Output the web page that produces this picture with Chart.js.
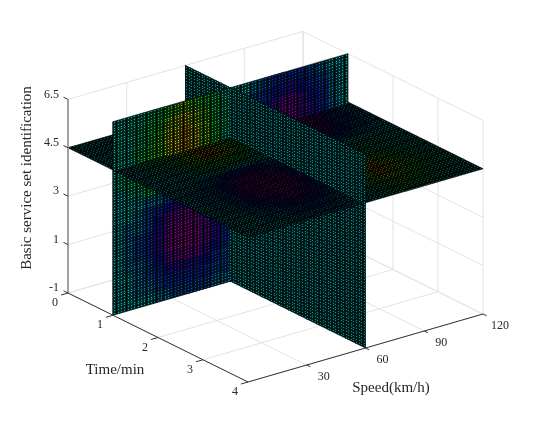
<!DOCTYPE html>
<html>
<head>
<meta charset="utf-8">
<title>Slice plot</title>
<style>
  html, body { margin: 0; padding: 0; background: #fff; }
  canvas { display: block; }
</style>
<script src="https://cdn.jsdelivr.net/npm/chart.js@4/dist/chart.umd.js"></script>
</head>
<body>
<canvas id="chart" width="533" height="429"></canvas>
<script>
const timeTicks = [0, 1, 2, 3, 4];
const speedTicks = [30, 60, 90, 120];
const heightLabels = ["-1", "1", "3", "4.5", "6.5"];
const timeSlice = 1;
const speedSlice = 60;
const heightSlice = 3; // position of the 4.5 label

// levels, -10 magenta ... 0 teal ... 10 red
// rows go bottom to top, columns speed 0 to 120
const timeSliceValues = [
  [0,0,0,0,-1,-1,-2,-2,-2,-2,-1,-1, 0,0,0,0,0,0,0,0,0,0,0,0],
  [0,0,-1,-1,-2,-3,-3,-3,-3,-3,-2,-2, 0,0,0,0,0,0,0,0,0,0,0,0],
  [0,0,-1,-2,-3,-4,-5,-5,-5,-4,-3,-2, 0,0,0,0,0,0,0,0,0,0,0,0],
  [0,-1,-1,-2,-4,-6,-7,-8,-8,-6,-4,-3, 0,0,0,0,0,0,0,0,0,0,0,0],
  [0,-1,-2,-3,-5,-7,-9,-10,-9,-7,-5,-3, 0,0,0,0,0,0,0,0,0,0,0,0],
  [0,-1,-2,-3,-5,-7,-9,-10,-9,-7,-5,-3, 0,0,0,0,0,0,0,0,0,0,0,0],
  [0,-1,-1,-2,-4,-6,-8,-8,-8,-6,-4,-3, 0,0,0,0,0,0,0,0,0,0,0,0],
  [0,0,-1,-2,-3,-4,-5,-6,-5,-4,-3,-2, 0,0,0,0,0,0,0,0,0,0,0,0],
  [0,0,0,-1,-1,-2,-3,-3,-3,-2,-2,-1, 0,0,0,0,0,0,0,0,0,0,0,0],
  [0,1,2,3,3,2,1,0,0,0,0,0, 0,0,-1,-2,-3,-3,-3,-3,-2,-1,-1,0],
  [1,2,3,4,4,3,3,2,2,2,1,0, 0,-1,-2,-3,-4,-5,-5,-4,-3,-2,-1,0],
  [1,2,3,4,5,5,5,5,4,3,2,1, 0,-1,-2,-4,-6,-7,-7,-6,-4,-3,-1,0],
  [1,1,3,4,5,7,8,9,8,6,4,2, 0,-1,-3,-4,-6,-8,-8,-6,-5,-3,-1,0],
  [1,1,2,3,5,7,8,9,8,6,4,2, 0,-1,-2,-4,-6,-7,-7,-6,-4,-3,-1,0],
  [1,1,2,3,4,6,7,8,7,5,3,2, 0,0,-2,-3,-4,-5,-5,-4,-3,-2,-1,0],
  [0,1,1,2,3,4,5,6,5,4,3,1, 0,0,-1,-2,-3,-3,-3,-3,-2,-1,0,0]
];

// rows go bottom to top, columns time 0 to 4
const speedSliceValues = [
  [0,0,0,0,0,0,0,0],
  [0,0,0,0,0,0,0,0],
  [0,0,0,0,0,0,0,0],
  [0,0,0,0,0,0,0,0],
  [0,0,0,0,0,0,0,0],
  [0,0,0,0,0,0,0,0],
  [0,0,0,0,0,0,0,0],
  [0,0,0,0,0,0,0,0]
];

// rows go time 0 to 4, columns speed 0 to 120
const heightSliceValues = [
  [0,0,0,1,1,2,1,1,0,0,-1,-1,-2,-1,-1,0],
  [0,0,1,1,2,3,2,1,0,-1,-2,-2,-3,-2,-1,0],
  [0,0,1,2,4,5,4,2,0,-1,-3,-5,-5,-4,-2,-1],
  [0,1,1,3,6,7,6,3,1,-1,-3,-6,-7,-5,-3,-1],
  [0,1,2,4,7,9,7,4,1,-2,-4,-7,-8,-6,-3,-1],
  [0,1,2,4,7,9,7,4,1,-2,-4,-7,-8,-6,-3,-1],
  [0,0,1,2,4,5,4,2,0,-1,-3,-6,-6,-4,-2,-1],
  [0,0,0,0,1,0,0,0,0,0,-1,-3,-3,-2,-1,0],
  [0,0,-1,-2,-4,-5,-4,-2,0,1,1,0,0,0,0,0],
  [0,-1,-2,-4,-7,-8,-7,-4,-1,1,3,3,2,1,1,0],
  [0,-1,-2,-5,-8,-10,-8,-5,-1,2,4,5,4,3,1,1],
  [0,-1,-2,-5,-8,-10,-8,-4,-1,3,6,8,6,4,2,1],
  [0,-1,-2,-4,-6,-8,-6,-3,0,3,7,9,7,5,2,1],
  [0,0,-1,-2,-4,-5,-4,-2,0,3,6,8,6,4,2,1],
  [0,0,-1,-1,-2,-3,-2,-1,0,2,4,5,4,2,1,0],
  [0,0,0,-1,-1,-1,-1,0,0,1,2,2,2,1,1,0]
];

const colorStops = [
  [-10, 215, 0, 185], [-7, 150, 0, 215], [-4, 20, 20, 245], [-2, 0, 100, 230],
  [0, 0, 220, 220], [2, 0, 220, 130], [4, 20, 230, 40], [6, 120, 235, 0],
  [8, 235, 225, 0], [10, 245, 90, 0]
];

const meshCount = 70;
const maxTime = 4, maxSpeed = 120, maxHeight = 4;

// fixed view of the 3D box
function project(time, speed, height) {
  return {
    x: 68 + 45 * time + 58.75 * (speed / 30),
    y: 293 + 22.25 * time - 17 * (speed / 30) - 48.4 * height
  };
}

function levelColor(level, scale) {
  let c = colorStops[0];
  for (const stop of colorStops) if (stop[0] <= level) c = stop;
  const next = colorStops[colorStops.indexOf(c) + 1] || c;
  const f = next === c ? 0 : (level - c[0]) / (next[0] - c[0]);
  const ch = (i) => Math.min(255, Math.round((c[i] + (next[i] - c[i]) * f) * scale));
  return `rgb(${ch(1)},${ch(2)},${ch(3)})`;
}

const planes = {
  time: {
    values: timeSliceValues, aMax: maxSpeed, bMax: maxHeight,
    at: (a, b) => project(timeSlice, a, b),
    cell: (a, b, v) => v[Math.floor(b / maxHeight * v.length)][Math.floor(a / maxSpeed * v[0].length)],
    dot: 0.82, dim: 0.27, under: 1.7, base: "#010808"
  },
  speed: {
    values: speedSliceValues, aMax: maxTime, bMax: maxHeight,
    at: (a, b) => project(a, speedSlice, b),
    cell: (a, b, v) => v[Math.floor(b / maxHeight * v.length)][Math.floor(a / maxTime * v[0].length)],
    dot: 0.66, dim: 0.17, under: 1.6, base: "#010606"
  },
  height: {
    values: heightSliceValues, aMax: maxTime, bMax: maxSpeed,
    at: (a, b) => project(a, b, heightSlice),
    cell: (a, b, v) => v[Math.floor(a / maxTime * v.length)][Math.floor(b / maxSpeed * v[0].length)],
    dot: 0.36, dim: 0.15, under: 1.2, base: "#010403"
  }
};

function pieceDatasets(name, aFrom, aTo, bFrom, bTo) {
  const p = planes[name];
  const corners = [p.at(aFrom, bFrom), p.at(aTo, bFrom), p.at(aTo, bTo), p.at(aFrom, bTo), p.at(aFrom, bFrom)];
  const shape = {
    data: corners, showLine: true, fill: "shape", backgroundColor: p.base,
    borderColor: "#000", borderWidth: 0.6, pointRadius: 0
  };
  const points = [], fills = [], dims = [];
  for (let i = 0; i < meshCount; i++) {
    const a = (i + 0.5) / meshCount * p.aMax;
    if (a < aFrom || a > aTo) continue;
    for (let j = 0; j < meshCount; j++) {
      const b = (j + 0.5) / meshCount * p.bMax;
      if (b < bFrom || b > bTo) continue;
      const level = p.cell(a, b, p.values);
      const at = p.at(a, b);
      // snap to the pixel grid so the dots stay crisp
      points.push({ x: Math.floor(at.x) + 0.5, y: Math.floor(at.y) + 0.5 });
      fills.push(levelColor(level, p.dot));
      dims.push(levelColor(level, p.dim));
    }
  }
  const under = {
    data: points, showLine: false, pointStyle: "rect", pointRadius: p.under,
    pointBackgroundColor: dims, pointBorderWidth: 0
  };
  const dots = {
    data: points, showLine: false, pointStyle: "rect", pointRadius: 0.71,
    pointBackgroundColor: fills, pointBorderWidth: 0
  };
  return [shape, under, dots];
}

// box lines, a NaN point breaks the line
function segments(list) {
  const out = [];
  list.forEach(([from, to]) => {
    out.push(project(...from), project(...to), { x: NaN, y: NaN });
  });
  return out;
}

const gridSegs = [];
const heightSteps = [0, 1, 2, 3, 4];
const speedSteps = [0].concat(speedTicks);
heightSteps.forEach((h) => {
  gridSegs.push([[0, 0, h], [0, maxSpeed, h]]);
  gridSegs.push([[0, maxSpeed, h], [maxTime, maxSpeed, h]]);
});
speedSteps.forEach((s) => {
  gridSegs.push([[0, s, 0], [0, s, maxHeight]]);
  gridSegs.push([[0, s, 0], [maxTime, s, 0]]);
});
timeTicks.forEach((t) => {
  gridSegs.push([[t, 0, 0], [t, maxSpeed, 0]]);
  gridSegs.push([[t, maxSpeed, 0], [t, maxSpeed, maxHeight]]);
});

const axisSegs = [[[0, 0, 0], [maxTime, 0, 0]], [[maxTime, 0, 0], [maxTime, maxSpeed, 0]]];
timeTicks.forEach((t) => axisSegs.push([[t, 0, 0], [t, -3.6, 0]]));
speedTicks.forEach((s) => axisSegs.push([[maxTime, s, 0], [maxTime + 0.08, s, 0]]));
heightSteps.forEach((h) => axisSegs.push([[0, 0, h], [-0.1, 0, h]]));

const lineSet = (segs, color, width) => ({
  data: segments(segs), showLine: true, spanGaps: false, borderColor: color,
  borderWidth: width, pointRadius: 0, fill: false
});

// back to front, split at the three slices
const sceneDatasets = [
  lineSet(gridSegs, "#e2e2e2", 1),
  ...pieceDatasets("speed", 0, timeSlice, 0, heightSlice),
  ...pieceDatasets("time", speedSlice, maxSpeed, 0, heightSlice),
  ...pieceDatasets("time", 0, speedSlice, 0, heightSlice),
  ...pieceDatasets("speed", timeSlice, maxTime, 0, heightSlice),
  ...pieceDatasets("height", 0, timeSlice, speedSlice, maxSpeed),
  ...pieceDatasets("height", 0, timeSlice, 0, speedSlice),
  ...pieceDatasets("height", timeSlice, maxTime, speedSlice, maxSpeed),
  ...pieceDatasets("height", timeSlice, maxTime, 0, speedSlice),
  ...pieceDatasets("speed", 0, timeSlice, heightSlice, maxHeight),
  ...pieceDatasets("time", speedSlice, maxSpeed, heightSlice, maxHeight),
  ...pieceDatasets("time", 0, speedSlice, heightSlice, maxHeight),
  ...pieceDatasets("speed", timeSlice, maxTime, heightSlice, maxHeight),
  lineSet([[[0, 0, 0], [0, 0, maxHeight]]], "#8f8f8f", 1.6),
  lineSet(axisSegs, "#333333", 1)
];
sceneDatasets.forEach((d, i) => { d.order = sceneDatasets.length - i; });

const axisText = {
  id: "axisText",
  afterDraw(chart) {
    const { ctx, scales } = chart;
    const put = (text, p, dx, dy, align) => {
      ctx.textAlign = align || "center";
      ctx.fillText(text, scales.x.getPixelForValue(p.x) + dx, scales.y.getPixelForValue(p.y) + dy);
    };
    ctx.save();
    ctx.fillStyle = "#262626";
    ctx.textBaseline = "middle";
    ctx.font = "12px 'Liberation Serif'";
    timeTicks.forEach((t) => put(String(t), project(t, 0, 0), -13, 10));
    speedTicks.forEach((s) => put(String(s), project(maxTime, s, 0), 17, 12));
    heightLabels.forEach((label, i) => put(label, project(0, 0, i), -9, -5, "right"));
    ctx.font = "15px 'Liberation Serif'";
    ctx.textAlign = "center";
    ctx.fillText("Time/min", 115, 370);
    ctx.fillText("Speed(km/h)", 391, 388);
    ctx.translate(27, 178);
    ctx.rotate(-Math.PI / 2);
    ctx.fillText("Basic service set identification", 0, 0);
    ctx.restore();
  }
};

new Chart(document.getElementById("chart"), {
  type: "scatter",
  data: { datasets: sceneDatasets },
  options: {
    responsive: false,
    animation: false,
    events: [],
    layout: { padding: 0, autoPadding: false },
    plugins: { legend: { display: false }, tooltip: { enabled: false } },
    scales: {
      x: { type: "linear", min: 0, max: 533, display: false },
      y: { type: "linear", min: 0, max: 429, reverse: true, display: false }
    }
  },
  plugins: [axisText]
});
</script>
</body>
</html>
